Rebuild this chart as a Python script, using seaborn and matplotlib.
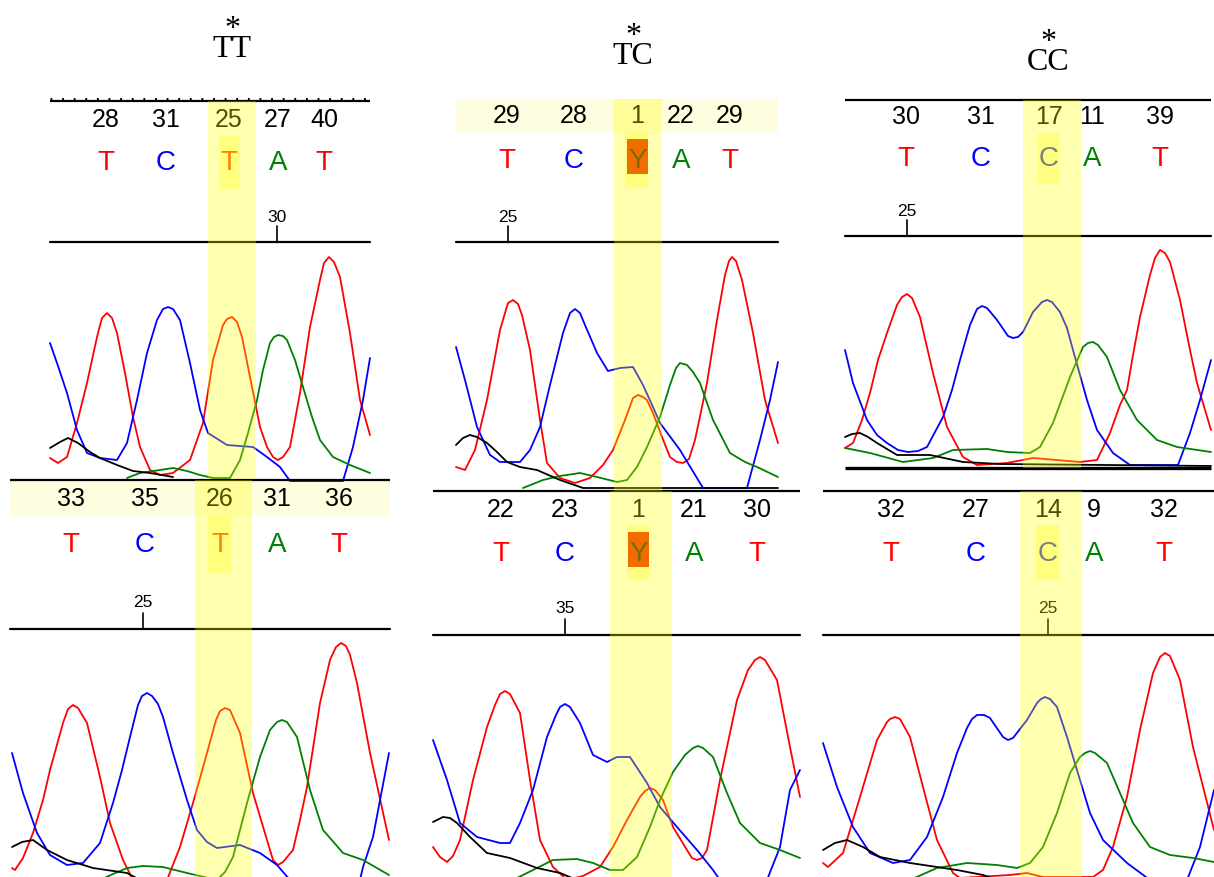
import matplotlib
matplotlib.use("Agg")
import matplotlib.pyplot as plt
from matplotlib.patches import Rectangle
import pandas as pd
import seaborn as sns

# ---------------------------------------------------------------------------
# data (x = scan position, y = screen row)
# ---------------------------------------------------------------------------
GENOTYPES = ["TT", "TC", "CC"]

P1_QUAL = [28, 31, 25, 27, 40]
P1_BASES = ["T", "C", "T", "A", "T"]
P1_BASE_X = [106, 166, 229, 278, 324]
P1_SCAN = (277, "30")
P1_RED = [(50, 458), (58, 463), (67, 457), (77, 423), (87, 383), (97, 337), (102, 318), (107, 313),
          (112, 318), (117, 333), (125, 373), (133, 417), (140, 447), (150, 470), (160, 475),
          (173, 473), (190, 460), (203, 423), (213, 360), (223, 325), (227, 319), (232, 317),
          (237, 322), (242, 337), (250, 377), (260, 427), (267, 447), (273, 457), (278, 460),
          (283, 457), (290, 447), (300, 393), (310, 327), (320, 280), (324, 263), (329, 257),
          (334, 262), (340, 277), (350, 333), (360, 400), (370, 435)]
P1_BLUE = [(50, 343), (57, 363), (67, 393), (77, 430), (87, 453), (100, 458), (117, 460), (127, 443),
           (137, 400), (147, 353), (157, 320), (163, 309), (168, 307), (173, 309), (180, 320),
           (190, 363), (200, 410), (208, 433), (227, 445), (253, 447), (267, 457), (280, 467),
           (290, 481), (343, 481), (353, 447), (363, 400), (370, 358)]
P1_GREEN = [(127, 478), (140, 473), (160, 470), (173, 468), (187, 471), (200, 475), (213, 478),
            (230, 478), (240, 460), (248, 433), (257, 400), (263, 370), (270, 343), (274, 337),
            (278, 335), (283, 336), (287, 340), (295, 360), (303, 387), (312, 417), (320, 440),
            (333, 457), (350, 465), (370, 473)]
P1_BLACK = [(50, 448), (60, 442), (68, 438), (78, 443), (90, 452), (100, 458), (117, 465),
            (133, 471), (150, 473), (173, 477)]

P2_QUAL = [29, 28, 1, 22, 29]
P2_BASES = ["T", "C", "Y", "A", "T"]
P2_BASE_X = [507, 574, 637, 681, 730]
P2_SCAN = (508, "25")
P2_RED = [(456, 467), (465, 470), (475, 450), (487, 400), (500, 330), (508, 303), (513, 300),
          (518, 304), (522, 315), (530, 350), (540, 420), (547, 463), (560, 478), (575, 483),
          (590, 478), (603, 465), (613, 450), (625, 420), (633, 398), (638, 395), (643, 397),
          (647, 400), (653, 413), (662, 437), (670, 457), (677, 462), (683, 463), (689, 459),
          (695, 440), (707, 383), (717, 320), (725, 275), (729, 261), (732, 257), (736, 261),
          (742, 280), (753, 333), (765, 400), (778, 443)]
P2_BLUE = [(456, 347), (465, 380), (477, 427), (490, 455), (500, 462), (520, 462), (530, 450),
           (540, 427), (550, 385), (563, 333), (570, 313), (575, 309), (580, 313), (585, 325),
           (597, 353), (608, 371), (620, 368), (633, 367), (643, 385), (653, 407), (660, 423),
           (680, 450), (703, 488), (747, 488), (760, 440), (770, 400), (778, 362)]
P2_GREEN = [(523, 488), (543, 480), (560, 476), (580, 473), (597, 477), (617, 482), (627, 480),
            (637, 467), (647, 447), (660, 417), (670, 385), (676, 368), (680, 363), (687, 365),
            (693, 372), (700, 383), (713, 420), (730, 453), (745, 462), (757, 467), (778, 477)]
P2_BLACK = [(456, 445), (463, 438), (470, 435), (477, 437), (487, 443), (497, 452), (507, 462),
            (520, 467), (537, 470), (560, 480), (583, 488), (778, 488)]

P3_QUAL = [30, 31, 17, 11, 39]
P3_BASES = ["T", "C", "C", "A", "T"]
P3_BASE_X = [906, 981, 1049, 1092, 1160]
P3_SCAN = (907, "25")
P3_RED = [(845, 448), (853, 443), (862, 420), (870, 393), (878, 360), (887, 333), (897, 305),
          (902, 297), (907, 294), (912, 298), (920, 317), (933, 373), (947, 427), (963, 457),
          (977, 465), (1007, 463), (1033, 458), (1080, 462), (1097, 460), (1110, 433),
          (1120, 405), (1127, 390), (1133, 355), (1140, 317), (1150, 275), (1155, 258),
          (1160, 250), (1165, 253), (1170, 262), (1180, 300), (1190, 350), (1197, 383),
          (1211, 430)]
P3_BLUE = [(845, 350), (853, 383), (867, 420), (877, 435), (887, 443), (898, 450), (908, 452),
           (918, 451), (927, 447), (943, 417), (952, 390), (960, 360), (970, 325), (977, 309),
           (982, 306), (987, 308), (997, 320), (1008, 336), (1013, 338), (1018, 337), (1023, 332),
           (1033, 312), (1042, 302), (1047, 300), (1052, 302), (1060, 312), (1067, 328),
           (1073, 350), (1087, 400), (1097, 430), (1113, 453), (1130, 465), (1178, 465),
           (1190, 433), (1200, 400), (1211, 360)]
P3_GREEN = [(845, 448), (870, 453), (903, 462), (933, 458), (953, 450), (987, 449), (1007, 452),
            (1030, 453), (1040, 447), (1053, 423), (1070, 377), (1083, 347), (1088, 343),
            (1093, 342), (1098, 345), (1107, 357), (1120, 390), (1137, 420), (1157, 440),
            (1177, 447), (1211, 452)]
P3_BLACK = [(845, 437), (852, 434), (860, 433), (868, 437), (877, 443), (897, 455), (930, 455),
            (963, 462), (1000, 464), (1211, 466)]

P4_QUAL = [33, 35, 26, 31, 36]
P4_BASES = ["T", "C", "T", "A", "T"]
P4_BASE_X = [71, 145, 220, 277, 339]
P4_SCAN = (143, "25")
P4_RED = [(12, 868), (15, 870), (23, 858), (33, 833), (43, 800), (50, 770), (63, 723), (68, 709),
          (73, 705), (78, 708), (87, 723), (100, 777), (110, 823), (123, 860), (133, 880),
          (167, 880), (180, 847), (193, 803), (207, 753), (216, 720), (220, 711), (225, 708),
          (230, 710), (240, 733), (253, 793), (267, 840), (273, 860), (278, 865), (283, 862),
          (293, 850), (300, 820), (307, 787), (320, 703), (330, 660), (336, 647), (341, 643),
          (346, 646), (350, 655), (357, 683), (370, 753), (389, 840)]
P4_BLUE = [(12, 753), (23, 793), (37, 833), (50, 855), (67, 865), (83, 863), (100, 843),
           (113, 803), (122, 770), (130, 737), (138, 705), (142, 696), (147, 693), (152, 696),
           (158, 704), (163, 717), (173, 753), (187, 800), (197, 830), (207, 842), (217, 848),
           (240, 845), (260, 853), (277, 865), (290, 880), (360, 880), (363, 867), (373, 837),
           (389, 753)]
P4_GREEN = [(100, 880), (113, 874), (127, 868), (143, 866), (163, 867), (187, 873), (217, 880),
            (225, 872), (233, 857), (247, 803), (260, 757), (270, 730), (277, 722), (282, 720),
            (287, 722), (297, 737), (310, 790), (323, 830), (343, 853), (363, 860), (389, 875)]
P4_BLACK = [(12, 847), (22, 842), (33, 840), (47, 850), (67, 860), (93, 868), (127, 873),
            (140, 880)]

P5_QUAL = [22, 23, 1, 21, 30]
P5_BASES = ["T", "C", "Y", "A", "T"]
P5_BASE_X = [501, 565, 638, 694, 757]
P5_SCAN = (565, "35")
P5_RED = [(433, 847), (440, 857), (447, 862), (453, 856), (460, 840), (473, 780), (487, 727),
          (495, 705), (500, 694), (505, 691), (510, 694), (520, 713), (530, 780), (540, 840),
          (553, 867), (567, 880), (583, 876), (600, 867), (613, 847), (627, 820), (640, 797),
          (645, 791), (650, 788), (655, 790), (663, 800), (673, 827), (687, 850), (692, 858),
          (697, 860), (702, 858), (707, 850), (720, 780), (737, 700), (748, 670), (755, 660),
          (760, 657), (765, 660), (777, 680), (790, 747), (800, 797)]
P5_BLUE = [(433, 740), (447, 780), (460, 823), (477, 837), (500, 843), (510, 843), (520, 823),
           (533, 790), (547, 737), (556, 715), (560, 707), (565, 704), (570, 707), (580, 723),
           (593, 755), (607, 762), (617, 757), (630, 757), (647, 783), (660, 807), (677, 827),
           (697, 850), (713, 870), (720, 880), (767, 880), (780, 847), (790, 790), (800, 770)]
P5_GREEN = [(513, 880), (533, 870), (553, 860), (577, 859), (593, 863), (610, 870), (623, 870),
            (637, 857), (650, 827), (660, 800), (673, 772), (685, 755), (693, 748), (698, 746),
            (703, 748), (713, 757), (727, 793), (740, 823), (760, 843), (780, 850), (800, 858)]
P5_BLACK = [(433, 822), (443, 817), (450, 818), (457, 823), (470, 837), (487, 853), (510, 858),
            (537, 868), (560, 873), (577, 880)]

P6_QUAL = [32, 27, 14, 9, 32]
P6_BASES = ["T", "C", "C", "A", "T"]
P6_BASE_X = [891, 976, 1048, 1094, 1164]
P6_SCAN = (1048, "25")
P6_RED = [(823, 863), (828, 867), (843, 853), (860, 797), (877, 740), (887, 722), (890, 719),
          (895, 717), (900, 719), (910, 737), (923, 787), (937, 840), (953, 873), (960, 878),
          (1010, 875), (1027, 873), (1043, 877), (1093, 877), (1103, 870), (1113, 847),
          (1127, 797), (1140, 730), (1153, 673), (1160, 657), (1165, 653), (1170, 656),
          (1180, 680), (1193, 747), (1214, 830)]
P6_BLUE = [(823, 743), (837, 787), (853, 827), (870, 853), (893, 863), (910, 860), (927, 837),
           (943, 797), (957, 753), (967, 728), (972, 719), (977, 715), (984, 715), (990, 718),
           (1003, 737), (1008, 740), (1013, 738), (1027, 720), (1037, 703), (1041, 699),
           (1045, 697), (1050, 699), (1057, 707), (1067, 737), (1080, 780), (1090, 813),
           (1103, 840), (1127, 863), (1150, 880), (1187, 880), (1200, 847), (1214, 790)]
P6_GREEN = [(910, 880), (937, 868), (967, 863), (997, 865), (1017, 868), (1030, 863),
            (1043, 847), (1057, 813), (1070, 773), (1080, 757), (1085, 753), (1090, 751),
            (1095, 753), (1107, 763), (1120, 793), (1133, 823), (1150, 847), (1170, 855),
            (1193, 858), (1214, 862)]
P6_BLACK = [(823, 850), (835, 843), (847, 840), (863, 847), (880, 857), (910, 863), (937, 867),
            (957, 870), (983, 875), (997, 880)]

DYE_COLORS = {"A": "#008000", "C": "#0000ff", "G": "#000000", "T": "#ff0000"}
BASE_COLORS = {"A": "#008000", "C": "#0000ff", "T": "#ff0000", "Y": "#7a6a00"}

# layout of each panel (pixel rows / columns of the screen capture)
PANELS = [
    dict(qual=P1_QUAL, bases=P1_BASES, bx=P1_BASE_X, scan=P1_SCAN,
         traces={"T": P1_RED, "C": P1_BLUE, "A": P1_GREEN, "G": P1_BLACK},
         x0=50, x1=370, top=101, dotted=True, qual_y=127, base_y=170, ruler_y=242, label_y=222,
         band=(208, 256, 101, 479), sq=(219, 240, 136, 189), light=None, orange=None, base_line=None),
    dict(qual=P2_QUAL, bases=P2_BASES, bx=P2_BASE_X, scan=P2_SCAN,
         traces={"T": P2_RED, "C": P2_BLUE, "A": P2_GREEN, "G": P2_BLACK},
         x0=456, x1=778, top=None, dotted=False, qual_y=123, base_y=168, ruler_y=242, label_y=222,
         band=(614, 662, 99, 491), sq=(625, 648, 132, 188), light=(456, 778, 99, 132),
         orange=(627, 648, 139, 174), base_line=None),
    dict(qual=P3_QUAL, bases=P3_BASES, bx=P3_BASE_X, scan=P3_SCAN,
         traces={"T": P3_RED, "C": P3_BLUE, "A": P3_GREEN, "G": P3_BLACK},
         x0=845, x1=1211, top=100, dotted=False, qual_y=124, base_y=166, ruler_y=236, label_y=216,
         band=(1023, 1081, 100, 468), sq=(1038, 1059, 133, 184), light=None, orange=None, base_line=468),
    dict(qual=P4_QUAL, bases=P4_BASES, bx=P4_BASE_X, scan=P4_SCAN,
         traces={"T": P4_RED, "C": P4_BLUE, "A": P4_GREEN, "G": P4_BLACK},
         x0=10, x1=390, top=480, dotted=False, qual_y=506, base_y=552, ruler_y=629, label_y=607,
         band=(195, 252, 480, 877), sq=(208, 231, 516, 573), light=(10, 390, 480, 516),
         orange=None, base_line=None),
    dict(qual=P5_QUAL, bases=P5_BASES, bx=P5_BASE_X, scan=P5_SCAN,
         traces={"T": P5_RED, "C": P5_BLUE, "A": P5_GREEN, "G": P5_BLACK},
         x0=433, x1=800, top=491, dotted=False, qual_y=517, base_y=561, ruler_y=635, label_y=613,
         band=(610, 672, 491, 877), sq=(627, 649, 525, 580), light=None,
         orange=(628, 649, 532, 567), base_line=None),
    dict(qual=P6_QUAL, bases=P6_BASES, bx=P6_BASE_X, scan=P6_SCAN,
         traces={"T": P6_RED, "C": P6_BLUE, "A": P6_GREEN, "G": P6_BLACK},
         x0=823, x1=1214, top=491, dotted=False, qual_y=517, base_y=561, ruler_y=635, label_y=613,
         band=(1020, 1082, 491, 877), sq=(1036, 1059, 525, 580), light=None, orange=None,
         base_line=None),
]
# x centre and top row of each "*" + genotype heading
TITLE_POS = [(232, 15), (633, 22), (1048, 28)]

NARROW = ["Liberation Sans Narrow", "Liberation Sans", "DejaVu Sans"]
SERIF = ["Liberation Serif", "DejaVu Serif"]


def trace_frame(traces):
    rows = []
    for dye, pts in traces.items():
        for x, y in pts:
            rows.append((dye, x, y))
    return pd.DataFrame(rows, columns=["dye", "scan", "signal"])


def rect(ax, box, color, alpha=1.0, z=1):
    x0, x1, y0, y1 = box
    ax.add_patch(Rectangle((x0, y0), x1 - x0, y1 - y0, facecolor=color, edgecolor="none",
                           alpha=alpha, zorder=z))


sns.set_style("white")
fig = plt.figure(figsize=(12.14, 8.77), dpi=100)
ax = fig.add_axes([0, 0, 1, 1])

for p in PANELS:
    if p["light"] is not None:
        rect(ax, p["light"], "#fffde0", z=0)

    df = trace_frame(p["traces"])
    sns.lineplot(data=df, x="scan", y="signal", hue="dye", palette=DYE_COLORS,
                 estimator=None, sort=False, legend=False, linewidth=1.3, ax=ax, zorder=2)

    # header rule
    if p["top"] is not None:
        ax.plot([p["x0"], p["x1"]], [p["top"], p["top"]],
                color="black", lw=1.6, zorder=3, solid_capstyle="butt")
        if p["dotted"]:
            ax.plot([p["x0"], p["x1"]], [p["top"] - 2, p["top"] - 2], color="black",
                    lw=2.2, ls=(0, (0.6, 3.2)), zorder=3)
    if p["base_line"] is not None:
        ax.plot([p["x0"], p["x1"]], [p["base_line"], p["base_line"]], color="black",
                lw=2.4, zorder=3, solid_capstyle="butt")

    # scan ruler with one tick
    ax.plot([p["x0"], p["x1"]], [p["ruler_y"], p["ruler_y"]], color="black", lw=1.6, zorder=3)
    sx, slab = p["scan"]
    ax.plot([sx, sx], [p["ruler_y"] - 16, p["ruler_y"]], color="black", lw=1.2, zorder=3)
    ax.text(sx, p["label_y"], slab, ha="center", va="baseline", fontsize=12.5,
            family=NARROW, color="black", zorder=4)

    # quality values and base calls
    for x, q, b in zip(p["bx"], p["qual"], p["bases"]):
        ax.text(x, p["qual_y"], str(q), ha="center", va="baseline", fontsize=18,
                family=NARROW, color="black", zorder=4)
        if b == "Y":
            continue
        ax.text(x, p["base_y"], b, ha="center", va="baseline", fontsize=20,
                family=NARROW, color=BASE_COLORS[b], zorder=4)

    # highlighted SNP column
    rect(ax, p["band"], "#ffff00", alpha=0.31, z=5)
    rect(ax, p["sq"], "#ffff00", alpha=0.28, z=5)
    if p["orange"] is not None:
        rect(ax, p["orange"], "#f26d00", z=6)
        ox = (p["orange"][0] + p["orange"][1]) / 2
        ax.text(ox, p["base_y"], "Y", ha="center", va="baseline", fontsize=20,
                family=NARROW, color=BASE_COLORS["Y"], zorder=7)

# genotype headings, SNP asterisk on its own line above
for label, (tx, ty) in zip(GENOTYPES, TITLE_POS):
    ax.text(tx, ty, "*\n" + label, ha="center", va="top", multialignment="center",
            linespacing=0.57, fontsize=23, family=SERIF, color="black", zorder=4)

ax.set_xlim(0, 1214)
ax.set_ylim(877, 0)
ax.axis("off")
fig.savefig("out.png", dpi=100)
